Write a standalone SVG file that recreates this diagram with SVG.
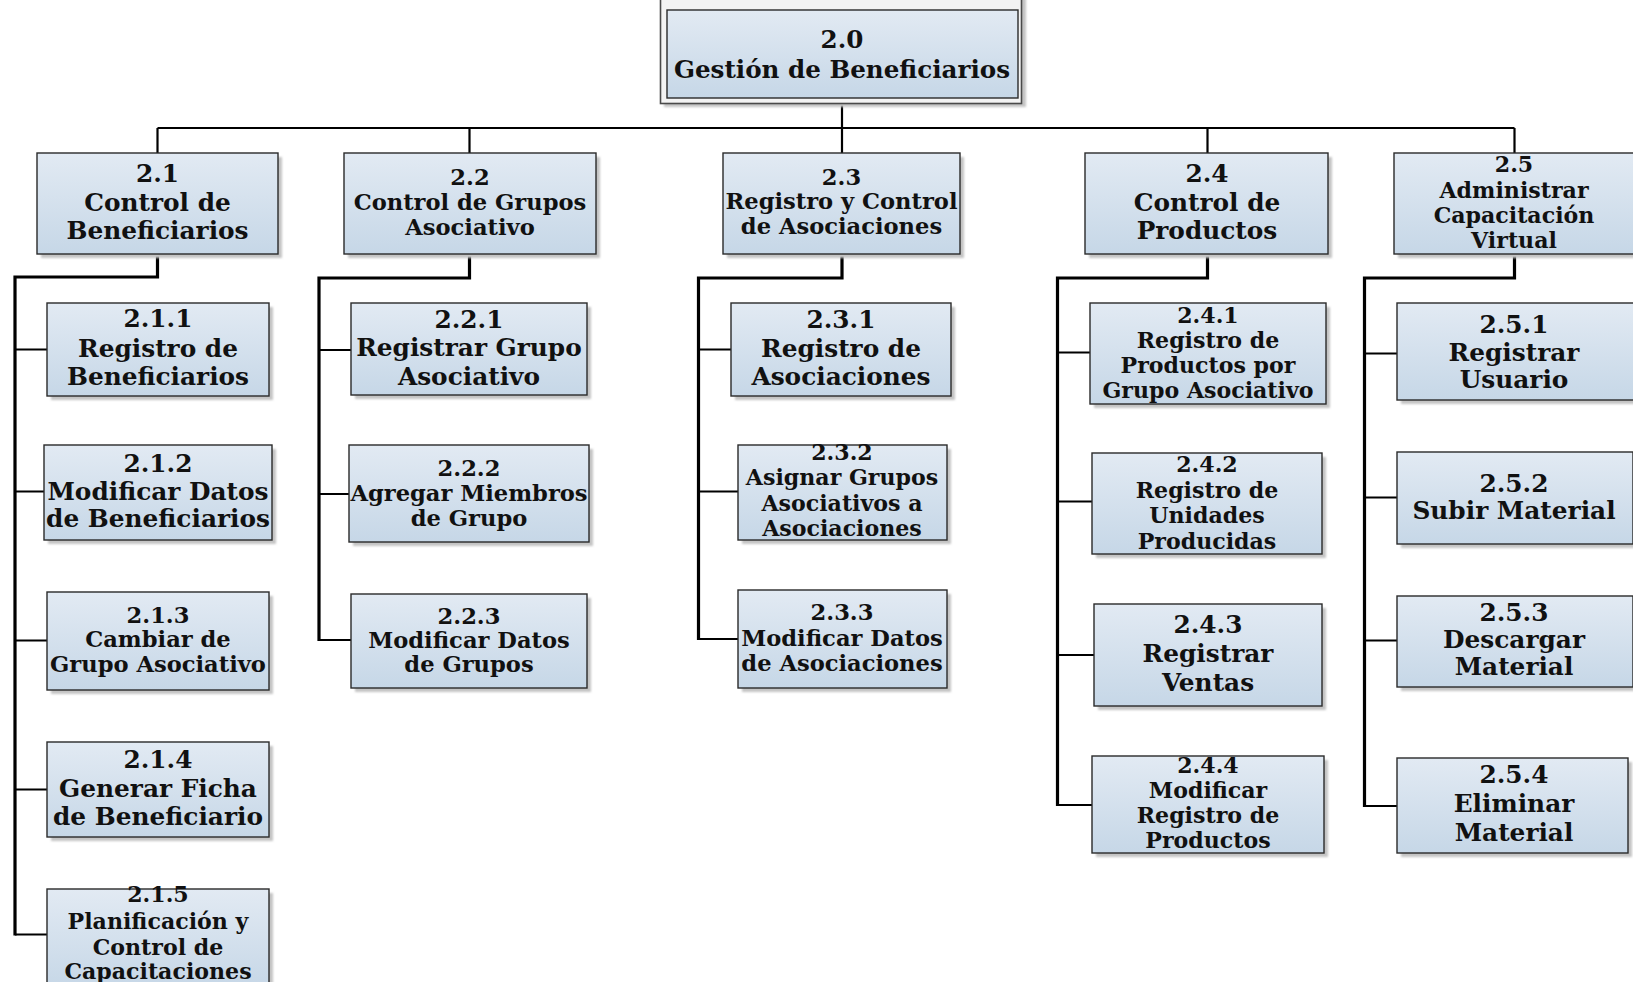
<svg xmlns="http://www.w3.org/2000/svg" width="1633" height="982" viewBox="0 0 1633 982">
  <defs>
    <linearGradient id="fill" x1="0" y1="0" x2="0" y2="1">
      <stop offset="0" stop-color="#e2eaf3"/>
      <stop offset="1" stop-color="#c6d7e7"/>
    </linearGradient>
    <filter id="soft" x="-5%" y="-5%" width="110%" height="110%">
      <feGaussianBlur stdDeviation="1.2"/>
    </filter>
  </defs>
  <style>
    .sh { fill: #c4c4c4; filter: url(#soft); }
    .bx { fill: url(#fill); stroke: #2a2a2a; stroke-width: 1.4; }
    .frame { fill: #f3f3f3; stroke: #4a4a4a; stroke-width: 1.6; }
    text { font-family: "DejaVu Serif", "Liberation Serif", serif; font-weight: bold; fill: #111; text-anchor: middle; }
    .R { font-size: 24.6px; }
    .L { font-size: 24.8px; }
    .S { font-size: 22.6px; }
    .M { font-size: 22.1px; }
    .bar { fill: none; stroke: #000; stroke-width: 2.2; }
    .spine { fill: none; stroke: #000; stroke-width: 3.2; stroke-linejoin: miter; }
    .tap { fill: none; stroke: #000; stroke-width: 2.2; }
  </style>
  <rect width="1633" height="982" fill="#ffffff"/>

  <!-- connectors -->
  <g id="connectors">
    <path class="bar" d="M842,104 V128 M157.5,128 H1514.5 M157.5,128 V153 M469.5,128 V153 M842,128 V153 M1207.5,128 V153 M1514.5,128 V153"/>
    <path class="spine" d="M157.5,254 V277 H15 V935.5"/>
    <path class="spine" d="M469.5,254 V278 H319 V641"/>
    <path class="spine" d="M842,254 V278 H698.5 V640"/>
    <path class="spine" d="M1207.5,254 V278 H1057.5 V806"/>
    <path class="spine" d="M1514.5,254 V278 H1364.5 V807"/>
    <path class="tap" d="M15,349.5 H47 M15,491.5 H44 M15,640.5 H47 M15,789.5 H47 M15,934.5 H47"/>
    <path class="tap" d="M319,350 H351 M319,494 H349 M319,640 H351"/>
    <path class="tap" d="M698.5,349.5 H731 M698.5,491.5 H738 M698.5,639 H738"/>
    <path class="tap" d="M1057.5,352.5 H1090 M1057.5,501.5 H1092 M1057.5,655 H1094 M1057.5,805 H1092"/>
    <path class="tap" d="M1364.5,353.5 H1397 M1364.5,497.5 H1397 M1364.5,640.5 H1397 M1364.5,806 H1397"/>
  </g>

  <!-- root -->
  <g id="n2_0">
    <rect class="sh" x="664" y="-4" width="362" height="111"/>
    <rect class="frame" x="660.5" y="-6" width="361" height="109.5"/>
    <rect class="bx" x="667" y="10" width="351" height="88"/>
    <text class="R"><tspan x="842" y="47.5">2.0</tspan><tspan x="842" y="77.5">Gestión de Beneficiarios</tspan></text>
  </g>

  <!-- level 1 -->
  <g id="n2_1">
    <rect class="sh" x="41" y="157" width="241" height="101"/>
    <rect class="bx" x="37" y="153" width="241" height="101"/>
    <text class="L"><tspan x="157.5" y="182">2.1</tspan><tspan x="157.5" y="211">Control de</tspan><tspan x="157.5" y="239">Beneficiarios</tspan></text>
  </g>
  <g id="n2_2">
    <rect class="sh" x="348" y="157" width="252" height="101"/>
    <rect class="bx" x="344" y="153" width="252" height="101"/>
    <text class="S"><tspan x="470" y="185">2.2</tspan><tspan x="470" y="209.5">Control de Grupos</tspan><tspan x="470" y="234.5">Asociativo</tspan></text>
  </g>
  <g id="n2_3">
    <rect class="sh" x="727" y="157" width="237" height="101"/>
    <rect class="bx" x="723" y="153" width="237" height="101"/>
    <text class="S"><tspan x="841.5" y="185">2.3</tspan><tspan x="841.5" y="209">Registro y Control</tspan><tspan x="841.5" y="234">de Asociaciones</tspan></text>
  </g>
  <g id="n2_4">
    <rect class="sh" x="1089" y="157" width="243" height="101"/>
    <rect class="bx" x="1085" y="153" width="243" height="101"/>
    <text class="L"><tspan x="1207" y="182">2.4</tspan><tspan x="1207" y="211">Control de</tspan><tspan x="1207" y="239">Productos</tspan></text>
  </g>
  <g id="n2_5">
    <rect class="sh" x="1398" y="157" width="245" height="101"/>
    <rect class="bx" x="1394" y="153" width="245" height="101"/>
    <text class="M"><tspan x="1514" y="172">2.5</tspan><tspan x="1514" y="198">Administrar</tspan><tspan x="1514" y="223">Capacitación</tspan><tspan x="1514" y="248">Virtual</tspan></text>
  </g>

  <!-- 2.1 children -->
  <g id="n2_1_1">
    <rect class="sh" x="51" y="307" width="222" height="93"/>
    <rect class="bx" x="47" y="303" width="222" height="93"/>
    <text class="L"><tspan x="158" y="327">2.1.1</tspan><tspan x="158" y="356.5">Registro de</tspan><tspan x="158" y="385">Beneficiarios</tspan></text>
  </g>
  <g id="n2_1_2">
    <rect class="sh" x="48" y="449" width="228" height="95"/>
    <rect class="bx" x="44" y="445" width="228" height="95"/>
    <text class="L"><tspan x="158" y="471.5">2.1.2</tspan><tspan x="158" y="499.5">Modificar Datos</tspan><tspan x="158" y="527">de Beneficiarios</tspan></text>
  </g>
  <g id="n2_1_3">
    <rect class="sh" x="51" y="596" width="222" height="98"/>
    <rect class="bx" x="47" y="592" width="222" height="98"/>
    <text class="S"><tspan x="158" y="622.5">2.1.3</tspan><tspan x="158" y="647">Cambiar de</tspan><tspan x="158" y="672">Grupo Asociativo</tspan></text>
  </g>
  <g id="n2_1_4">
    <rect class="sh" x="51" y="746" width="222" height="95"/>
    <rect class="bx" x="47" y="742" width="222" height="95"/>
    <text class="L"><tspan x="158" y="768">2.1.4</tspan><tspan x="158" y="796.5">Generar Ficha</tspan><tspan x="158" y="825">de Beneficiario</tspan></text>
  </g>
  <g id="n2_1_5">
    <rect class="sh" x="51" y="893" width="222" height="100"/>
    <rect class="bx" x="47" y="889" width="222" height="100"/>
    <text class="M"><tspan x="158" y="902">2.1.5</tspan><tspan x="158" y="929">Planificación y</tspan><tspan x="158" y="955">Control de</tspan><tspan x="158" y="979">Capacitaciones</tspan></text>
  </g>

  <!-- 2.2 children -->
  <g id="n2_2_1">
    <rect class="sh" x="355" y="307" width="236" height="92"/>
    <rect class="bx" x="351" y="303" width="236" height="92"/>
    <text class="L"><tspan x="469" y="327.5">2.2.1</tspan><tspan x="469" y="356">Registrar Grupo</tspan><tspan x="469" y="384.5">Asociativo</tspan></text>
  </g>
  <g id="n2_2_2">
    <rect class="sh" x="353" y="449" width="240" height="97"/>
    <rect class="bx" x="349" y="445" width="240" height="97"/>
    <text class="S"><tspan x="469" y="475.5">2.2.2</tspan><tspan x="469" y="500.5">Agregar Miembros</tspan><tspan x="469" y="525.5">de Grupo</tspan></text>
  </g>
  <g id="n2_2_3">
    <rect class="sh" x="355" y="598" width="236" height="94"/>
    <rect class="bx" x="351" y="594" width="236" height="94"/>
    <text class="S"><tspan x="469" y="624">2.2.3</tspan><tspan x="469" y="647.5">Modificar Datos</tspan><tspan x="469" y="672">de Grupos</tspan></text>
  </g>

  <!-- 2.3 children -->
  <g id="n2_3_1">
    <rect class="sh" x="735" y="307" width="220" height="93"/>
    <rect class="bx" x="731" y="303" width="220" height="93"/>
    <text class="L"><tspan x="841" y="328">2.3.1</tspan><tspan x="841" y="356.5">Registro de</tspan><tspan x="841" y="385">Asociaciones</tspan></text>
  </g>
  <g id="n2_3_2">
    <rect class="sh" x="742" y="449" width="209" height="95"/>
    <rect class="bx" x="738" y="445" width="209" height="95"/>
    <text class="M"><tspan x="842" y="460">2.3.2</tspan><tspan x="842" y="485">Asignar Grupos</tspan><tspan x="842" y="510.5">Asociativos a</tspan><tspan x="842" y="536">Asociaciones</tspan></text>
  </g>
  <g id="n2_3_3">
    <rect class="sh" x="742" y="594" width="209" height="98"/>
    <rect class="bx" x="738" y="590" width="209" height="98"/>
    <text class="S"><tspan x="842" y="620">2.3.3</tspan><tspan x="842" y="646">Modificar Datos</tspan><tspan x="842" y="671">de Asociaciones</tspan></text>
  </g>

  <!-- 2.4 children -->
  <g id="n2_4_1">
    <rect class="sh" x="1094" y="307" width="236" height="101"/>
    <rect class="bx" x="1090" y="303" width="236" height="101"/>
    <text class="M"><tspan x="1208" y="322.5">2.4.1</tspan><tspan x="1208" y="348">Registro de</tspan><tspan x="1208" y="373">Productos por</tspan><tspan x="1208" y="398">Grupo Asociativo</tspan></text>
  </g>
  <g id="n2_4_2">
    <rect class="sh" x="1096" y="457" width="230" height="101"/>
    <rect class="bx" x="1092" y="453" width="230" height="101"/>
    <text class="M"><tspan x="1207" y="472">2.4.2</tspan><tspan x="1207" y="497.5">Registro de</tspan><tspan x="1207" y="523">Unidades</tspan><tspan x="1207" y="548.5">Producidas</tspan></text>
  </g>
  <g id="n2_4_3">
    <rect class="sh" x="1098" y="608" width="228" height="102"/>
    <rect class="bx" x="1094" y="604" width="228" height="102"/>
    <text class="L"><tspan x="1208" y="633">2.4.3</tspan><tspan x="1208" y="661.5">Registrar</tspan><tspan x="1208" y="690.5">Ventas</tspan></text>
  </g>
  <g id="n2_4_4">
    <rect class="sh" x="1096" y="760" width="232" height="97"/>
    <rect class="bx" x="1092" y="756" width="232" height="97"/>
    <text class="M"><tspan x="1208" y="772.5">2.4.4</tspan><tspan x="1208" y="798">Modificar</tspan><tspan x="1208" y="823">Registro de</tspan><tspan x="1208" y="848">Productos</tspan></text>
  </g>

  <!-- 2.5 children -->
  <g id="n2_5_1">
    <rect class="sh" x="1401" y="307" width="240" height="97"/>
    <rect class="bx" x="1397" y="303" width="240" height="97"/>
    <text class="L"><tspan x="1514" y="332.5">2.5.1</tspan><tspan x="1514" y="360.5">Registrar</tspan><tspan x="1514" y="388">Usuario</tspan></text>
  </g>
  <g id="n2_5_2">
    <rect class="sh" x="1401" y="456" width="236" height="92"/>
    <rect class="bx" x="1397" y="452" width="236" height="92"/>
    <text class="L"><tspan x="1514" y="491.5">2.5.2</tspan><tspan x="1514" y="519">Subir Material</tspan></text>
  </g>
  <g id="n2_5_3">
    <rect class="sh" x="1401" y="600" width="236" height="91"/>
    <rect class="bx" x="1397" y="596" width="236" height="91"/>
    <text class="L"><tspan x="1514" y="620.5">2.5.3</tspan><tspan x="1514" y="648">Descargar</tspan><tspan x="1514" y="675">Material</tspan></text>
  </g>
  <g id="n2_5_4">
    <rect class="sh" x="1401" y="762" width="231" height="95"/>
    <rect class="bx" x="1397" y="758" width="231" height="95"/>
    <text class="L"><tspan x="1514" y="783">2.5.4</tspan><tspan x="1514" y="811.5">Eliminar</tspan><tspan x="1514" y="840.5">Material</tspan></text>
  </g>
</svg>
